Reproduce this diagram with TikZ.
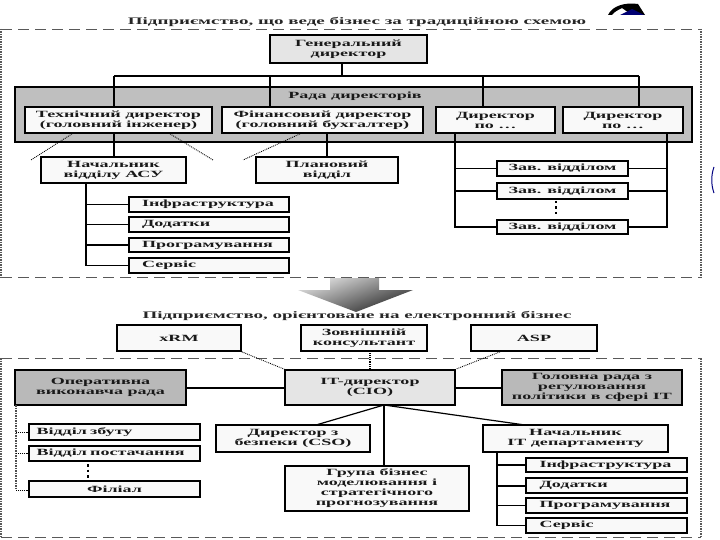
\documentclass[tikz,border=0pt]{standalone}
\usepackage{fontspec}
\setmainfont{Liberation Serif}
\newfontfamily\wideserif[FakeStretch=1.9]{Liberation Serif}
\usetikzlibrary{positioning,calc,shapes}
\tikzset{
	box/.style={draw=black,line width=1.7pt,fill=gray!5,align=center,inner sep=0pt,text=black!90,font=\wideserif\bfseries\fontsize{9.5}{10}\selectfont},
	darkbox/.style={box,fill=gray!55},
	lightbox/.style={box,fill=gray!20},
	listbox/.style={box,text width=134pt,align=left},
	conn/.style={line width=2pt},
	thin conn/.style={line width=1.2pt},
	dots/.style={densely dotted,line width=0.9pt},
	blocks/.style={line width=2.5pt,dash pattern=on 2.5pt off 3pt},
	frame h/.style={gray!70!black,line width=0.8pt,dash pattern=on 11pt off 6pt},
	frame v/.style={gray!70!black,line width=1.4pt,dash pattern=on 1.5pt off 1pt},
	title/.style={font=\wideserif\bfseries\fontsize{10}{10}\selectfont,text=black!85,inner sep=0pt}
}
\begin{document}
\begin{tikzpicture}[x=1pt,y=-1pt]
	\useasboundingbox (0,0) rectangle (720,540);
	% upper frame
	\coordinate (a1) at (1,29); \coordinate (a2) at (701,29);
	\coordinate (a3) at (701,277); \coordinate (a4) at (1,277);
	\draw[frame h] (a1) -- (a2);
	\draw[frame h] (a4) -- (a3);
	\draw[frame v] (a1) -- (a4);
	\draw[frame v] (a2) -- (a3);
	\node[title](title1) at (357,22) {Підприємство, що веде бізнес за традиційною схемою};
	% upper part
	\node[box,fill=gray!50,minimum width=677pt,minimum height=55pt](rada) at (353.5,114.5) {};
	\node[box,draw=none,fill=none](radatext) at (355,96) {Рада директорів};
	\node[lightbox,minimum width=157pt,minimum height=28pt](gendir) at (348.5,49) {Генеральний\\директор};
	\node[box,minimum width=187pt,minimum height=26pt](techdir) at (118.5,120) {Технічний директор\\(головний інженер)};
	\node[box,minimum width=201pt,minimum height=26pt](findir) at (322.5,120) {Фінансовий директор\\(головний бухгалтер)};
	\node[box,minimum width=119pt,minimum height=26pt](dir1) at (495.5,120) {Директор\\по \dots};
	\node[box,minimum width=120pt,minimum height=26pt](dir2) at (623,120) {Директор\\по \dots};
	\node[box,minimum width=145pt,minimum height=26pt](nach) at (113.5,170) {Начальник\\відділу АСУ};
	\node[box,minimum width=142pt,minimum height=26pt](plan) at (327,170) {Плановий\\відділ};
	\node[listbox,minimum width=160pt,minimum height=15pt](infra1) at (209,204.5) {Інфраструктура};
	\node[listbox,minimum width=160pt,minimum height=15pt](dod1) at (209,224.5) {Додатки};
	\node[listbox,minimum width=160pt,minimum height=14pt](prog1) at (209,245) {Програмування};
	\node[listbox,minimum width=160pt,minimum height=15pt](serv1) at (209,265.5) {Сервіс};
	\node[box,minimum width=131pt,minimum height=15pt](zav1) at (562.5,168.5) {Зав. відділом};
	\node[box,minimum width=131pt,minimum height=16pt](zav2) at (562.5,191) {Зав. відділом};
	\node[box,minimum width=131pt,minimum height=14pt](zav3) at (562.5,227) {Зав. відділом};
	\draw[blocks] (556,201) -- (556,216);
	% connectors upper
	\coordinate (bus0) at (342,76); \coordinate (bus1) at (114,76); \coordinate (bus2) at (270,76);
	\coordinate (bus3) at (483,76); \coordinate (bus4) at (639,76);
	\draw[conn] (gendir.south -| bus0) -- (bus0);
	\draw[thin conn] (bus1) -- (bus4);
	\draw[conn] (bus1) -- (bus1 |- techdir.north);
	\draw[conn] (bus2) -- (bus2 |- findir.north);
	\draw[conn] (bus3) -- (bus3 |- dir1.north);
	\draw[conn] (bus4) -- (bus4 |- dir2.north);
	\draw[conn] (techdir.south -| bus1) -- (nach.north -| bus1);
	\draw[conn] (findir.south -| plan) -- (plan.north);
	\coordinate (d1) at (31,160); \coordinate (d2) at (213,160); \coordinate (d3) at (243,160);
	\draw[dots] (techdir.south -| 72,0) -- (d1);
	\draw[dots] (techdir.south -| 170,0) -- (d2);
	\draw[dots] (findir.south -| 300,0) -- (d3);
	% spine of the ASU department
	\coordinate (sp1) at (86,183);
	\draw[thin conn] (sp1) |- (serv1.west);
	\draw[thin conn] (sp1 |- infra1) -- (infra1.west);
	\draw[thin conn] (sp1 |- dod1) -- (dod1.west);
	\draw[thin conn] (sp1 |- prog1) -- (prog1.west);
	% departments under the directors
	\coordinate (l1) at (455,133); \coordinate (r1) at (667,133);
	\draw[thin conn] (l1) |- (zav3.west);
	\draw[thin conn] (r1) |- (zav3.east);
	\draw[thin conn] (l1 |- zav1) -- (zav1.west);
	\draw[thin conn] (l1 |- zav2) -- (zav2.west);
	\draw[thin conn] (r1 |- zav1) -- (zav1.east);
	\draw[thin conn] (r1 |- zav2) -- (zav2.east);
	% big arrow
	\shade[top color=gray!25,bottom color=black!85,shading angle=20]
		(330,278) -- (379,278) -- (379,290) -- (413,290) -- (356,312) -- (298,290) -- (330,290) -- cycle;
	% lower frame
	\coordinate (b1) at (1,358); \coordinate (b2) at (701,358);
	\coordinate (b3) at (701,537); \coordinate (b4) at (1,537);
	\draw[frame h] (b1) -- (b2);
	\draw[frame h] (b4) -- (b3);
	\draw[frame v] (b1) -- (b4);
	\draw[frame v] (b2) -- (b3);
	\node[title](title2) at (357,316) {Підприємство, орієнтоване на електронний бізнес};
	% lower part
	\node[box,minimum width=124pt,minimum height=26pt](xrm) at (179,338) {xRM};
	\node[box,minimum width=126pt,minimum height=26pt](cons) at (364,338) {Зовнішній\\консультант};
	\node[box,minimum width=126pt,minimum height=26pt](asp) at (534,338) {ASP};
	\node[lightbox,minimum width=170pt,minimum height=35pt](cio) at (370,387.5) {IT-директор\\(CIO)};
	\node[darkbox,minimum width=171pt,minimum height=35pt](oper) at (100.5,387.5) {Оперативна\\виконавча рада};
	\node[darkbox,minimum width=180pt,minimum height=35pt](head) at (592,387.5) {Головна рада з\\регулювання\\політики в сфері IT};
	\node[box,minimum width=154pt,minimum height=27pt](cso) at (293,438.5) {Директор з\\безпеки (CSO)};
	\node[box,minimum width=185pt,minimum height=27pt](dep) at (575.5,438.5) {Начальник\\IT департаменту};
	\node[box,minimum width=184pt,minimum height=45pt](group) at (377,488.5) {Група бізнес\\моделювання і\\стратегічного\\прогнозування};
	\node[box,text width=156pt,align=left,minimum width=171pt,minimum height=16pt](sales) at (114.5,432) {Відділ збуту};
	\node[box,text width=156pt,align=left,minimum width=171pt,minimum height=15pt](supply) at (114.5,453.5) {Відділ постачання};
	\node[box,minimum width=171pt,minimum height=16pt](filial) at (114.5,489) {Філіал};
	\draw[blocks] (88,464) -- (88,479);
	\node[listbox,minimum width=161pt,minimum height=14pt](infra2) at (606.5,465) {Інфраструктура};
	\node[listbox,minimum width=161pt,minimum height=15pt](dod2) at (606.5,485.5) {Додатки};
	\node[listbox,minimum width=161pt,minimum height=15pt](prog2) at (606.5,505.5) {Програмування};
	\node[listbox,minimum width=161pt,minimum height=15pt](serv2) at (606.5,525.5) {Сервіс};
	% connectors lower
	\draw[dots] (xrm.south east) -- (cio.north west);
	\draw[dots,line width=1.2pt] (cio.north -| 370,0) -- (cons.south -| 370,0);
	\draw[dots] (asp.south west -| 500,0) -- (cio.north east);
	\draw[conn] (oper.east |- cio) -- (cio);
	\draw[conn] (cio) -- (head);
	\coordinate (cio b) at (384,405);
	\draw[thin conn] (cio b) -- (316,425);
	\draw[thin conn] (cio b) -- (525,425);
	\draw[conn] (cio b) -- (cio b |- group.north);
	\coordinate (sp3) at (16,405); \coordinate (sp4) at (16,490);
	\draw[frame v,line width=1.4pt,black!70] (sp3) -- (sp4);
	\draw[dots] (sp4 |- sales) -- (sales.west);
	\draw[dots] (sp4 |- supply) -- (supply.west);
	\draw[dots] (sp4) -- (sp4 -| filial.west);
	\coordinate (sp5) at (497,452);
	\draw[conn,line width=1.5pt] (sp5) |- (serv2.west);
	\draw[thin conn] (sp5 |- infra2) -- (infra2.west);
	\draw[conn] (sp5 |- dod2) -- (dod2.west);
	\draw[thin conn] (sp5 |- prog2) -- (prog2.west);
	% picture fragments at the edge
	\fill[black] (608,15) .. controls (612,6) and (625,2) .. (638,4) -- (645,15) -- (632,15) -- (622,8) .. controls (618,10) and (614,12) .. (612,15) -- cycle;
	\fill[blue!45!black] (620,15) -- (632,9) -- (644,15) -- cycle;
	\draw[blue!50!black,line width=1pt] (714,167) .. controls (711,175) and (711,185) .. (714,193);
\end{tikzpicture}
\end{document}
